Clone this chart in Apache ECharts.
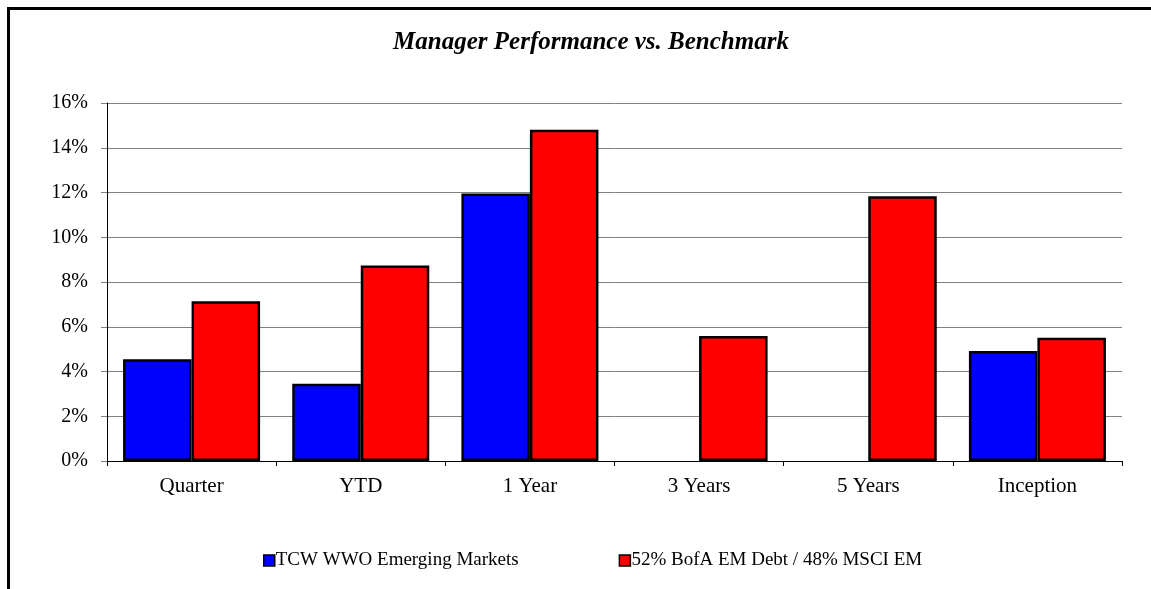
<!DOCTYPE html>
<html>
<head>
<meta charset="utf-8">
<script src="https://cdn.jsdelivr.net/npm/echarts@6/dist/echarts.min.js"></script>
<style>
  html, body { margin: 0; padding: 0; background: #fff; }
  #chart { width: 1151px; height: 589px; }
</style>
</head>
<body>
<div id="chart"></div>
<script>
// Periods shown along the x axis
const periods = ['Quarter', 'YTD', '1 Year', '3 Years', '5 Years', 'Inception'];
// Annualised returns in percent (null where the manager has no track record)
const managerReturns = [4.55, 3.45, 11.95, null, null, 4.92];
const benchmarkReturns = [7.14, 8.74, 14.8, 5.59, 11.83, 5.51];
const seriesNames = ['TCW WWO Emerging Markets', '52% BofA EM Debt / 48% MSCI EM'];
const yTicks = [0, 2, 4, 6, 8, 10, 12, 14, 16];

const serif = '"Liberation Serif", "Times New Roman", serif';
const chart = echarts.init(document.getElementById('chart'));

chart.setOption({
  animation: false,
  backgroundColor: '#fff',
  title: {
    text: 'Manager Performance vs. Benchmark',
    left: 586,
    textAlign: 'center',
    top: 25,
    textStyle: { fontFamily: serif, fontSize: 25, fontWeight: 'bold', fontStyle: 'italic', color: '#000' }
  },
  legend: {
    top: 546,
    left: 258,
    itemGap: 100,
    itemWidth: 11,
    itemHeight: 11,
    icon: 'rect',
    textStyle: { fontFamily: serif, fontSize: 19, color: '#000', padding: [0, 0, 0, -4] },
    data: seriesNames.map(n => ({ name: n, itemStyle: { borderColor: '#000', borderWidth: 1.5 } }))
  },
  grid: { left: 107, right: 29, top: 103, bottom: 128 },
  xAxis: {
    type: 'category',
    data: periods,
    axisLine: { lineStyle: { color: '#000', width: 1 } },
    axisTick: { show: true, length: 5, lineStyle: { color: '#000' } },
    axisLabel: { fontFamily: serif, fontSize: 21, color: '#000', margin: 15 }
  },
  yAxis: {
    type: 'value',
    min: yTicks[0],
    max: yTicks[yTicks.length - 1],
    interval: 2,
    axisLine: { show: true, lineStyle: { color: '#000', width: 1 } },
    axisTick: { show: true, length: 6, lineStyle: { color: '#808080' } },
    splitLine: { lineStyle: { color: '#808080', width: 1 } },
    axisLabel: { fontFamily: serif, fontSize: 20, color: '#000', margin: 19, formatter: v => v + '%' }
  },
  series: [
    {
      name: seriesNames[0],
      type: 'bar',
      data: managerReturns,
      barGap: '0%',
      barCategoryGap: '19%',
      itemStyle: { color: '#0000ff', borderColor: '#000', borderWidth: 2.5 }
    },
    {
      name: seriesNames[1],
      type: 'bar',
      data: benchmarkReturns,
      itemStyle: { color: '#ff0000', borderColor: '#000', borderWidth: 2.5 }
    }
  ],
  graphic: [
    {
      // frame along the left and top edges of the panel
      type: 'polyline',
      shape: { points: [[8.5, 589], [8.5, 8.5], [1151, 8.5]] },
      style: { stroke: '#000', lineWidth: 3, fill: null },
      silent: true
    }
  ]
});
</script>
</body>
</html>
